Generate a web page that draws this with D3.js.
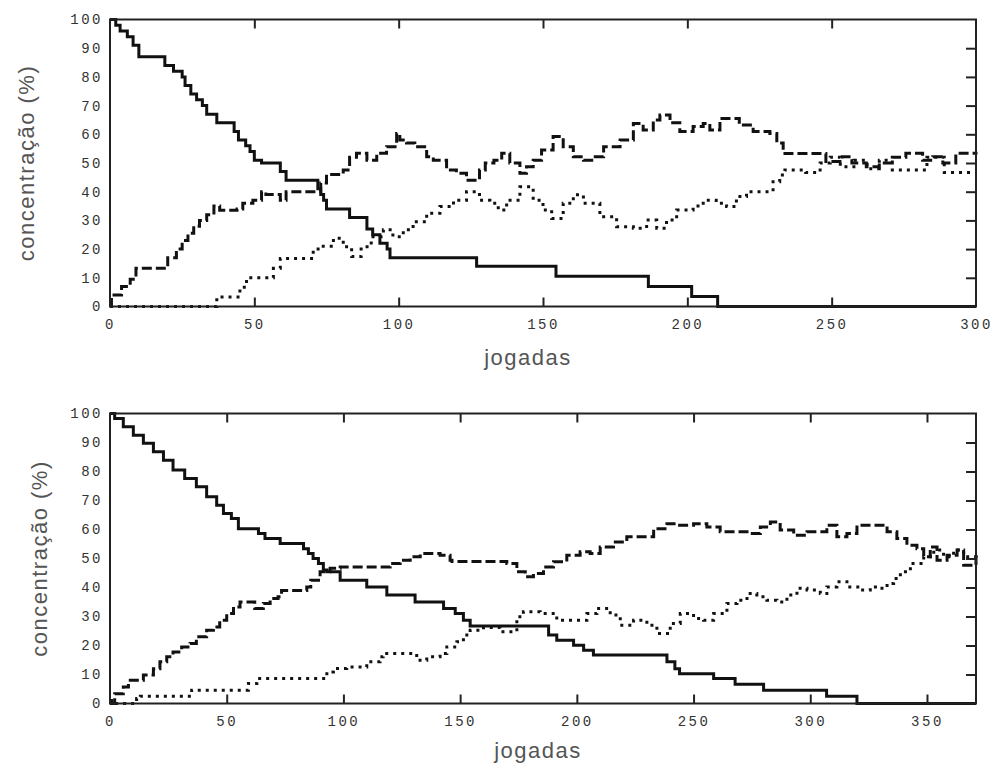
<!DOCTYPE html>
<html>
<head>
<meta charset="utf-8">
<script src="https://cdn.jsdelivr.net/npm/d3@7"></script>
<style>
body{margin:0;background:#fff;}
</style>
</head>
<body>
<div id="chart"></div>
<script>
// top panel: 300 jogadas
var top_solid=[[0,100],[2,98],[3.5,96],[6,94],[8,91],[10,87],[19,84],[22,82],[25,80],[26,77],[28,74],[30,72],[32,70],[33.5,67],[37,64],[43,61],[44.5,58],[47,56],[48.5,54],[50,51],[52.5,50],[59,47],[61,44],[72,41],[73,39],[74,37],[75,34],[83,31],[89,27],[91,25],[93.5,22],[96,20],[97,17],[127,14],[154.5,10.5],[186.5,7],[201.5,3.5],[210.5,0],[300,0]];
var top_dashed=[[0,0],[0.5,4],[4,7],[7,9.5],[9,13.3],[20,17],[23,20],[25,23],[27,25.5],[29,28],[31,30],[33.5,32],[36,35],[38,33.5],[44,34],[46,36],[49.5,37],[52.5,40],[54,39],[59,37],[61,40],[73,43],[75,46],[80.8,47.6],[83,52],[85.4,53.4],[89,51],[92.4,53.4],[95.8,55.7],[99.3,60.3],[100.4,58],[102.7,57],[105.6,55.7],[109.7,52.2],[112,51],[116.6,47.6],[120,46.4],[123.5,44],[128,47.6],[130,50],[133,51],[135.7,53.4],[138.5,50],[142,46.4],[144.3,48.7],[146.6,51],[149.5,54.5],[153.5,59.2],[157,55.7],[160.5,52.2],[164,51],[167.4,52.2],[171,55.7],[176.7,58],[181.3,63.8],[184.7,61.5],[188.2,65],[190.5,66.7],[194,64],[197.4,61],[202,62.7],[205.5,63.8],[207.8,61.5],[211.3,65.5],[218,63.2],[222.8,61],[228.6,60.3],[231,57],[233.2,53.3],[248,50.5],[253.7,52.2],[257,50],[262,48.7],[266.5,50],[271,52],[275.7,53.4],[281.5,51],[285,52.2],[288.5,50],[293,53.4],[300,53]];
var top_dotted=[[0,0],[37,3.3],[45,6.7],[47.3,10],[56.6,13.3],[59,16.7],[70.4,20],[72.7,21],[77.4,23.8],[80.8,20.8],[83.7,17.4],[87,20.8],[90.5,24.3],[94.7,26.7],[98,24.3],[101.6,26.7],[105,29.5],[109.7,32.5],[114.3,34.8],[119,37],[123.5,40],[128,37],[131.6,36],[134.5,33.6],[137.4,37],[142,41.7],[146.6,37],[150,33.6],[153,30.7],[157,36],[160.5,38.9],[164,36],[169.7,31.3],[175.5,27.8],[181.3,27.3],[185.9,30.1],[189.4,27.3],[192.8,30.1],[196.3,33.6],[202,35],[205.5,37],[210,36],[213.6,34.8],[217,38.3],[220.5,40],[229.7,43.5],[232,45.8],[233.8,47.6],[241,46.7],[246,50],[249.5,52],[253,48.7],[257.7,51],[262.3,48],[266.5,51],[271,47.6],[283,52],[289,46.7],[300,46.7]];

// bottom panel: ~370 jogadas
var bottom_solid=[[0,100],[2,98.3],[5.7,95.4],[10,92.5],[14.3,89.7],[18.6,86.8],[22.9,83.9],[27,80.5],[32,77.6],[37,74.7],[41.4,71.3],[45.7,68.4],[48.6,65.5],[52,63.8],[55,60.3],[63.6,58.6],[66.4,56.9],[72.9,55.2],[82.9,53.4],[85,51.7],[87,50],[89.3,48.3],[91.4,46],[93,45.4],[98.6,42.5],[110,40.2],[118.6,37.4],[130.7,35],[142.9,32.8],[147.9,31],[151.4,28.7],[154.3,26.7],[187.9,23.6],[191.4,21.8],[198.6,20.1],[202.9,18.4],[207.1,16.7],[238.6,14.4],[242,12],[244,10.3],[258.6,8.6],[267.8,6.6],[280,4.6],[307,2.5],[320,0],[371,0]];
var bottom_dashed=[[0,0],[2,3.4],[5.7,5.7],[7.9,8],[14.3,9.8],[18.6,12],[21.4,14.4],[24.3,16.1],[27,17.8],[30.7,19.5],[34.3,20.7],[37,23],[41.4,25.3],[44.3,26.4],[47,28.7],[50,31],[52.9,33.3],[55.7,35],[62,32.8],[65.7,34.5],[68.6,36.2],[72,36.8],[73.5,39],[84.3,40.2],[86,42.5],[90,45.4],[94.3,46.6],[98.6,47.1],[120,48.3],[124.3,49.4],[128.6,50.6],[132.9,51.7],[141.4,51.1],[145.7,49.4],[146.5,49],[170,48.3],[174.3,45.4],[177.9,43.7],[181.4,44.8],[185.7,47.1],[190,48.9],[195.7,51.1],[201.4,52.3],[205.7,51.7],[210,54],[215.7,55.7],[221.4,57.5],[232.9,60.3],[238.6,62],[242.9,61.5],[250,62],[255.7,60.9],[261.4,59.2],[272.9,58.6],[278.6,60.9],[282.9,62.6],[287.1,59.8],[292.9,58],[298.6,59.2],[307.1,61.5],[311.4,57.5],[315.7,58.6],[320,61.5],[332.9,59.2],[337.1,56.9],[341.4,54.6],[345.7,53.4],[348.6,50.6],[351.4,54],[354.3,49.4],[358.6,51.1],[362.9,52.9],[365.7,47.7],[371,51.1]];
var bottom_dotted=[[0,1],[2,0],[11.4,1.7],[13,2.5],[35,4.6],[59.3,6.9],[62.9,8.6],[92.9,10.9],[95.7,12.1],[101.4,12.6],[110,14.4],[115.7,16.1],[117,17.2],[131.4,14.9],[135.7,16.1],[141.4,17.2],[144.3,19.5],[148.6,21.3],[151.4,23.6],[154.3,25.3],[160,26.2],[167,24.7],[174.3,29.9],[177.1,31.6],[184.3,31],[191.4,28.7],[204.3,31],[208.6,32.8],[214.3,30.5],[218.6,27],[224.3,28.7],[230,27],[234.3,24.1],[240,27.6],[244.3,31],[250,29.3],[254.3,28.7],[258.6,31],[264.3,34.5],[268.6,35.6],[272.9,37.9],[277.1,36.8],[281.4,35.6],[285.7,35],[290,37.4],[294.3,39.7],[298.6,39.1],[304.3,37.9],[307.1,40.2],[311.4,42],[315.7,40.2],[321.4,39.1],[325.7,40.2],[330,39.7],[332.9,41.4],[335.7,43.1],[338.6,45.4],[342.9,48.3],[348.6,50.6],[352.9,52.9],[357.1,50.6],[361.4,52.9],[365.7,50.6],[371,48.3]];

var y_ticks=[0,10,20,30,40,50,60,70,80,90,100];
var top_x_ticks=[0,50,100,150,200,250,300];
var bottom_x_ticks=[0,50,100,150,200,250,300,350];

var svg=d3.select("#chart").append("svg")
    .attr("width",994)
    .attr("height",768);

function painel(p){
    var left=110,right=976,top=p.top,bottom=p.bottom,xmax=p.xmax;
    var x=d3.scaleLinear().domain([0,xmax]).range([left,right]);
    var y=d3.scaleLinear().domain([0,100]).range([bottom,top]);
    var g=svg.append("g");

    var linha=d3.line()
        .x(function(d){return x(d[0]);})
        .y(function(d){return y(d[1]);})
        .curve(d3.curveStepAfter);

    g.append("path").datum(p.dotted)
        .attr("d",linha).attr("fill","none")
        .attr("stroke","#111").attr("stroke-width",3)
        .attr("stroke-dasharray","3,5");
    g.append("path").datum(p.dashed)
        .attr("d",linha).attr("fill","none")
        .attr("stroke","#111").attr("stroke-width",3)
        .attr("stroke-dasharray","10,4");
    g.append("path").datum(p.solid)
        .attr("d",linha).attr("fill","none")
        .attr("stroke","#111").attr("stroke-width",3);

    // eixo x em baixo (ticks para dentro)
    var ax=g.append("g")
        .attr("transform","translate(0,"+bottom+")")
        .call(d3.axisBottom(x).tickValues(p.xticks).tickSizeInner(-9).tickSizeOuter(0).tickPadding(13));
    ax.select(".domain").remove();
    ax.selectAll(".tick").filter(function(d){return d==0||d==xmax;}).select("line").remove();

    var at=g.append("g")
        .attr("transform","translate(0,"+top+")")
        .call(d3.axisTop(x).tickValues(p.xticks).tickSizeInner(-9).tickSizeOuter(0).tickFormat(""));
    at.select(".domain").remove();
    at.selectAll(".tick").filter(function(d){return d==0||d==xmax;}).remove();

    var ay=g.append("g")
        .attr("transform","translate("+left+",0)")
        .call(d3.axisLeft(y).tickValues(y_ticks).tickSize(0).tickPadding(7));
    ay.select(".domain").remove();

    var ar=g.append("g")
        .attr("transform","translate("+right+",0)")
        .call(d3.axisRight(y).tickValues(y_ticks.slice(1,10)).tickSizeInner(-10).tickSizeOuter(0).tickFormat(""));
    ar.select(".domain").remove();

    g.selectAll(".tick line").attr("stroke","#222").attr("stroke-width",2);
    g.selectAll(".tick text")
        .style("font-family","'Liberation Mono', 'DejaVu Sans Mono', monospace")
        .style("font-size","14px")
        .style("letter-spacing","2.5px")
        .attr("fill","#333");

    g.append("rect")
        .attr("x",left).attr("y",top)
        .attr("width",right-left).attr("height",bottom-top)
        .attr("fill","none").attr("stroke","#222").attr("stroke-width",2);

    g.append("text")
        .attr("x",p.xtitle).attr("y",p.ytitle)
        .attr("text-anchor","middle")
        .style("font-family","'Liberation Sans', Arial, sans-serif")
        .style("font-size","22px")
        .style("letter-spacing","1.5px")
        .attr("fill","#555")
        .text("jogadas");

    g.append("text")
        .attr("transform","translate("+p.xlabel+","+((top+bottom)/2)+") rotate(-90)")
        .attr("text-anchor","middle")
        .style("font-family","'Liberation Sans', Arial, sans-serif")
        .style("font-size","22px")
        .style("letter-spacing","1.5px")
        .attr("fill","#555")
        .text("concentração (%)");
}

painel({top:19.5,bottom:306.5,xmax:300,xticks:top_x_ticks,solid:top_solid,dashed:top_dashed,dotted:top_dotted,xtitle:528,ytitle:365,xlabel:34});
painel({top:413.5,bottom:703.5,xmax:371,xticks:bottom_x_ticks,solid:bottom_solid,dashed:bottom_dashed,dotted:bottom_dotted,xtitle:538,ytitle:758,xlabel:47});
</script>
</body>
</html>
